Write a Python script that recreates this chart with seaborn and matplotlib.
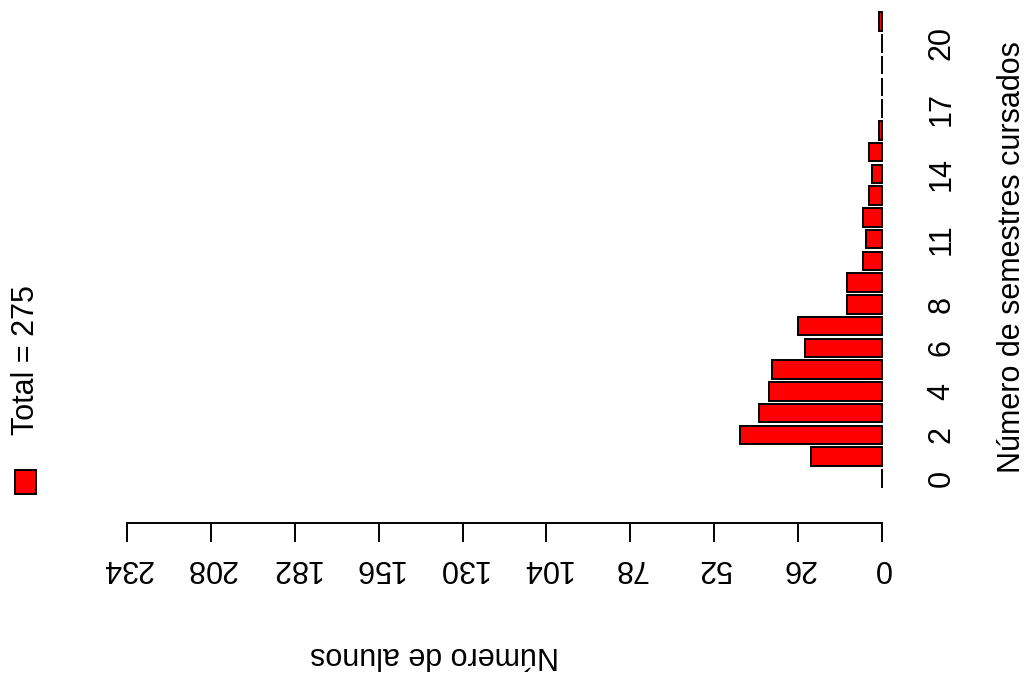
import numpy as np
import pandas as pd
import matplotlib
matplotlib.use("Agg")
import matplotlib.pyplot as plt
from matplotlib.patches import Rectangle
import seaborn as sns

# data
semestres = list(range(22))
alunos = [0, 22, 44, 38, 35, 34, 24, 26, 11, 11, 6, 5, 6, 4, 3, 4, 1, 0, 0, 0, 0, 1]
tick_semestres = [0, 2, 4, 6, 8, 11, 14, 17, 20]
tick_alunos = [0, 26, 52, 78, 104, 130, 156, 182, 208, 234]
total = sum(alunos)

sns.set_style("white")
plt.rcParams["font.family"] = ["Liberation Sans", "DejaVu Sans"]
plt.rcParams["text.color"] = "black"
plt.rcParams["xtick.color"] = "black"
plt.rcParams["ytick.color"] = "black"
plt.rcParams["axes.labelcolor"] = "black"

df = pd.DataFrame({"semestre": [str(s) for s in semestres], "alunos": alunos})
order = [str(s) for s in semestres[::-1]]

fig = plt.figure(figsize=(10.33, 6.75), dpi=100)
W, H = 1033, 675
ax = fig.add_axes([127 / W, 1 - 490 / H, (882 - 127) / W, 480 / H])

sns.barplot(
    data=df, x="alunos", y="semestre", orient="h", order=order,
    color="#ff0000", saturation=1, width=0.85,
    edgecolor="black", linewidth=1.4, ax=ax,
)
# bars sit on the right edge of the axes: don't clip their outlines
for p in ax.patches:
    p.set_clip_on(False)

ax.set_xlim(234, 0)
ax.set_ylim(21.53, -0.53)

for s in ["top", "left", "right"]:
    ax.spines[s].set_visible(False)
ax.spines["bottom"].set_position(("outward", 24))
ax.spines["bottom"].set_bounds(0, 234)
ax.spines["bottom"].set_linewidth(1.4)
ax.spines["bottom"].set_color("black")

fs = 22
ax.set_xticks(tick_alunos)
ax.set_xticklabels([str(t) for t in tick_alunos], rotation=180, fontsize=fs)
ax.tick_params(axis="x", bottom=True, direction="out", length=13.5, width=1.4,
               color="black", pad=8)

ax.yaxis.tick_right()
ax.set_yticks([21 - k for k in tick_semestres])
ax.set_yticklabels([str(k) for k in tick_semestres], rotation=90, fontsize=fs, va="center")
ax.tick_params(axis="y", length=0, pad=32)

ax.set_xlabel("Número de alunos", rotation=180, fontsize=fs)
ax.xaxis.set_label_coords((234 - 138.6) / 234, (490 - 655) / 480)
ax.xaxis.label.set_va("center")

ax.yaxis.set_label_position("right")
ax.set_ylabel("Número de semestres cursados", rotation=90, fontsize=fs)
ax.yaxis.set_label_coords((1012 - 127) / 755, (490 - 257) / 480)
ax.yaxis.label.set_va("center")
ax.yaxis.label.set_ha("center")

# legend (rotated, like the rest of the figure)
fig.patches.append(Rectangle((15 / W, 1 - 494 / H), 21 / W, 24 / H,
                             transform=fig.transFigure, facecolor="#ff0000",
                             edgecolor="black", linewidth=1.4))
fig.text(26 / W, 1 - 360 / H, f"Total = {total}", rotation=90,
         ha="center", va="center", fontsize=fs)

fig.savefig("out.png", dpi=100)
